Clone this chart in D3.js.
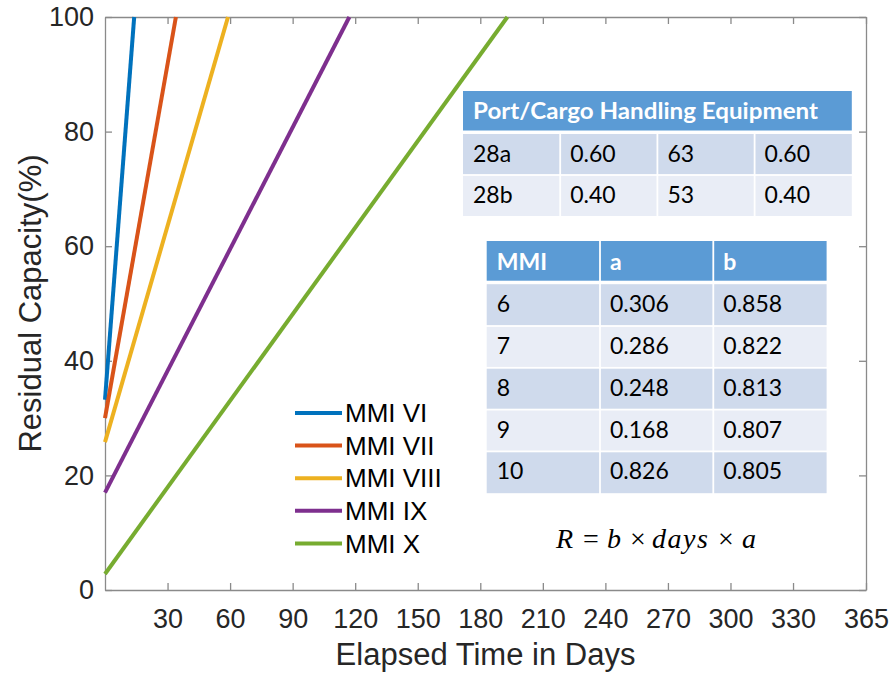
<!DOCTYPE html>
<html>
<head>
<meta charset="utf-8">
<script src="https://cdn.jsdelivr.net/npm/d3@7"></script>
<style>
  html, body { margin: 0; padding: 0; background: #fff; }
  svg { display: block; }
</style>
</head>
<body>
<svg id="chart" width="893" height="675"></svg>
<script>
// Residual capacity lines: value at day 0 and the day each series reaches 100 %
const seriesNames = ["MMI VI", "MMI VII", "MMI VIII", "MMI IX", "MMI X"];
const startCapacity = [33.2, 30.0, 25.8, 17.0, 2.8];
const daysToFull = [14, 34, 59, 117.2, 193];
const fullCapacity = 100;
const seriesColors = ["#0072BD", "#D95319", "#EDB120", "#7E2F8E", "#77AC30"];

const xTicks = [30, 60, 90, 120, 150, 180, 210, 240, 270, 300, 330, 365];
const yTicks = [0, 20, 40, 60, 80, 100];

// Equipment table
const equipTitle = "Port/Cargo Handling Equipment";
const equipRows = [
  ["28a", "0.60", "63", "0.60"],
  ["28b", "0.40", "53", "0.40"]
];

// Coefficient table
const coefHeader = ["MMI", "a", "b"];
const coefMMI = ["6", "7", "8", "9", "10"];
const coefA = ["0.306", "0.286", "0.248", "0.168", "0.826"];
const coefB = ["0.858", "0.822", "0.813", "0.807", "0.805"];

const svg = d3.select("#chart");
const plot = { left: 105, right: 866, top: 17, bottom: 590 };

const x = d3.scaleLinear().domain([0, 365]).range([plot.left, plot.right]);
const y = d3.scaleLinear().domain([0, 100]).range([plot.bottom, plot.top]);

const axisColor = "#8a8a8a";
const tickTextColor = "#262626";
const sans = "'Liberation Sans', Arial, Helvetica, sans-serif";

// Axes (MATLAB-like box with inward ticks)
const gx = svg.append("g").attr("transform", `translate(0,${plot.bottom})`)
  .call(d3.axisBottom(x).tickValues(xTicks).tickFormat(d3.format("d"))
    .tickSizeInner(-7).tickSizeOuter(0).tickPadding(18.5));
const gxTop = svg.append("g").attr("transform", `translate(0,${plot.top})`)
  .call(d3.axisTop(x).tickValues(xTicks).tickFormat("")
    .tickSizeInner(-7).tickSizeOuter(0));
const gy = svg.append("g").attr("transform", `translate(${plot.left},0)`)
  .call(d3.axisLeft(y).tickValues(yTicks).tickFormat(d3.format("d"))
    .tickSizeInner(-7).tickSizeOuter(0).tickPadding(11));
const gyRight = svg.append("g").attr("transform", `translate(${plot.right},0)`)
  .call(d3.axisRight(y).tickValues(yTicks).tickFormat("")
    .tickSizeInner(-7).tickSizeOuter(0));

[gx, gxTop, gy, gyRight].forEach(g => {
  g.select(".domain").attr("stroke", axisColor).attr("stroke-width", 1.3);
  g.selectAll(".tick line").attr("stroke", axisColor).attr("stroke-width", 1.3);
  g.selectAll(".tick text").attr("fill", tickTextColor)
    .style("font-family", sans).style("font-size", "27px");
});

// Axis titles
svg.append("text")
  .attr("x", (plot.left + plot.right) / 2).attr("y", 665)
  .attr("text-anchor", "middle").attr("fill", tickTextColor)
  .style("font-family", sans).style("font-size", "31px")
  .text("Elapsed Time in Days");

svg.append("text")
  .attr("transform", `translate(41,${(plot.top + plot.bottom) / 2}) rotate(-90)`)
  .attr("text-anchor", "middle").attr("fill", tickTextColor)
  .style("font-family", sans).style("font-size", "31px")
  .text("Residual Capacity(%)");

// Lines
const line = d3.line().x(d => x(d[0])).y(d => y(d[1]));
seriesNames.forEach((name, i) => {
  const pts = [[0, startCapacity[i]], [daysToFull[i], fullCapacity]];
  svg.append("path").datum(pts)
    .attr("d", line).attr("fill", "none")
    .attr("stroke", seriesColors[i]).attr("stroke-width", 4);
});

// Legend
const legend = svg.append("g").attr("transform", "translate(295,413)");
seriesNames.forEach((name, i) => {
  const row = legend.append("g").attr("transform", `translate(0,${i * 32.6})`);
  row.append("line").attr("x1", 0).attr("x2", 47).attr("y1", 0).attr("y2", 0)
    .attr("stroke", seriesColors[i]).attr("stroke-width", 4);
  row.append("text").attr("x", 50).attr("y", 0).attr("dy", "0.35em")
    .attr("fill", "#000").style("font-family", sans).style("font-size", "26px")
    .text(name);
});

// Tables
const tableFont = "Lato, 'Open Sans', sans-serif";
const headFill = "#5B9BD5", darkFill = "#CFDAEC", lightFill = "#E9EDF6";

function cell(g, x0, y0, w, h, fill) {
  g.append("rect").attr("x", x0).attr("y", y0).attr("width", w).attr("height", h)
    .attr("fill", fill);
}
function cellText(g, x0, yb, txt, bold, color) {
  return g.append("text").attr("x", x0).attr("y", yb)
    .attr("fill", color).style("font-family", tableFont)
    .style("font-size", "23px").style("font-weight", bold ? 700 : 400)
    .text(txt);
}

// Equipment table
const t1 = svg.append("g");
const t1x = 463, t1w = 97.2, t1y = 91, t1hh = 39.5, t1rh = 41;
cell(t1, t1x, t1y, t1w * 4, t1hh, headFill);
cellText(t1, t1x + 10, t1y + 28, equipTitle, true, "#fff")
  .attr("textLength", 345).attr("lengthAdjust", "spacingAndGlyphs");
equipRows.forEach((r, ri) => {
  const ry = t1y + t1hh + 3.5 + ri * t1rh;
  r.forEach((v, ci) => {
    const cx = t1x + ci * t1w;
    cell(t1, cx + (ci ? 0.9 : 0), ry + (ri ? 0.9 : 0), t1w - (ci ? 0.9 : 0) - (ci < 3 ? 0.9 : 0),
      t1rh - (ri ? 0.9 : 0) - (ri < 1 ? 0.9 : 0), ri % 2 === 0 ? darkFill : lightFill);
    cellText(t1, cx + 10, ry + 28, v, false, "#000");
  });
});

// Coefficient table
const t2 = svg.append("g");
const t2x = 486.7, t2w = 113.3, t2y = 241, t2hh = 39.7, t2rh = 41.8;
coefHeader.forEach((h, ci) => {
  const cx = t2x + ci * t2w;
  cell(t2, cx + (ci ? 0.9 : 0), t2y, t2w - (ci ? 0.9 : 0) - (ci < 2 ? 0.9 : 0), t2hh, headFill);
  cellText(t2, cx + 10, t2y + 29, h, true, "#fff");
});
const coefCols = [coefMMI, coefA, coefB];
coefMMI.forEach((m, ri) => {
  const ry = t2y + t2hh + 3.5 + ri * t2rh;
  coefCols.forEach((col, ci) => {
    const cx = t2x + ci * t2w;
    cell(t2, cx + (ci ? 0.9 : 0), ry + (ri ? 0.9 : 0), t2w - (ci ? 0.9 : 0) - (ci < 2 ? 0.9 : 0),
      t2rh - (ri ? 0.9 : 0) - (ri < 4 ? 0.9 : 0), ri % 2 === 0 ? darkFill : lightFill);
    cellText(t2, cx + 10, ry + 28, col[ri], false, "#000");
  });
});

// Formula  R = b × days × a
const serif = "'Liberation Serif', 'DejaVu Serif', serif";
const formulaParts = [
  { t: "R", x: 556, it: true },
  { t: "=", x: 583, it: false },
  { t: "b", x: 607, it: true },
  { t: "×", x: 630, it: false },
  { t: "days", x: 652, it: true },
  { t: "×", x: 718, it: false },
  { t: "a", x: 742, it: true }
];
const formula = svg.append("text").attr("y", 548)
  .attr("fill", "#000").style("font-family", serif).style("font-size", "28px");
formulaParts.forEach(p => {
  const ts = formula.append("tspan").attr("x", p.x).text(p.t)
    .style("font-style", p.it ? "italic" : "normal");
  if (p.t === "days") ts.attr("textLength", 56).attr("lengthAdjust", "spacing");
});
</script>
</body>
</html>
